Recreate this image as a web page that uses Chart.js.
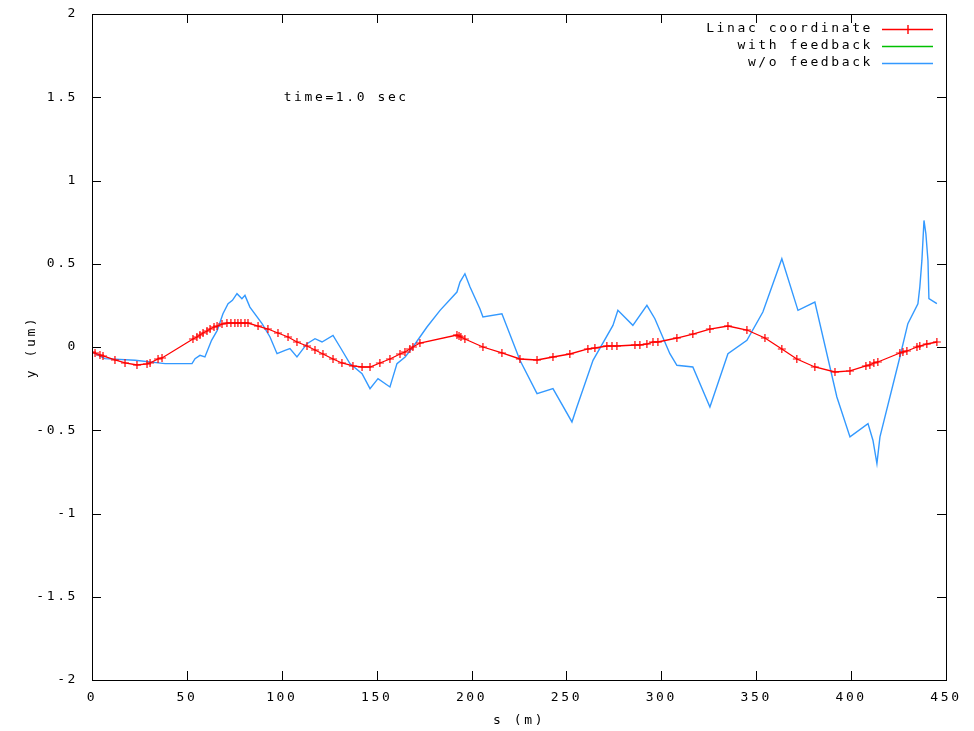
<!DOCTYPE html>
<html><head><meta charset="utf-8">
<script src="https://cdn.jsdelivr.net/npm/chart.js@4/dist/chart.umd.min.js"></script>
<style>html,body{margin:0;padding:0;background:#fff}#wrap{width:974px;height:731px}</style>
</head><body><div id="wrap"><canvas id="c" width="974" height="731"></canvas></div>
<script>
// ---- data ----
const seriesLabels = ['Linac coordinate', 'with feedback', 'w/o feedback'];
const annotationText = 'time=1.0 sec';
const xTicks = [0, 50, 100, 150, 200, 250, 300, 350, 400, 450];
const yTicks = [-2, -1.5, -1, -0.5, 0, 0.5, 1, 1.5, 2];

const sRed = [0, 1.6, 4.2, 5.8, 12.1, 17.4, 23.7, 29, 30.6, 34.8, 36.9, 53.2, 55.3, 56.9, 58.5, 60.6, 62.2, 64.3, 65.9, 68.5, 71.1, 73.2, 75.3, 76.9, 78.5, 80.6, 82.2, 87.5, 92.7, 98, 103.3, 108, 113.3, 117.5, 121.7, 127, 131.7, 137.5, 142.3, 146.5, 151.7, 157, 162.3, 164.9, 167.5, 169.1, 172.8, 192.3, 193.4, 194.4, 196.5, 206, 216, 225.5, 234.5, 242.9, 251.8, 261.3, 265, 271.3, 274, 276.6, 286.1, 288.7, 292.4, 295.6, 298.2, 308.2, 316.6, 325.6, 335.1, 345.1, 354.6, 363.5, 371.4, 380.9, 391.5, 399.4, 407.8, 409.9, 412, 414.1, 425.7, 427.3, 429.4, 434.7, 436.2, 439.9, 445.2];
const yRed = [-0.03, -0.036, -0.048, -0.054, -0.078, -0.096, -0.108, -0.102, -0.096, -0.072, -0.066, 0.048, 0.06, 0.072, 0.084, 0.096, 0.108, 0.12, 0.126, 0.138, 0.144, 0.144, 0.144, 0.144, 0.144, 0.144, 0.144, 0.126, 0.108, 0.084, 0.06, 0.03, 0.006, -0.018, -0.042, -0.072, -0.096, -0.114, -0.12, -0.12, -0.096, -0.072, -0.042, -0.03, -0.012, 0, 0.024, 0.072, 0.066, 0.06, 0.048, 0, -0.036, -0.072, -0.078, -0.06, -0.042, -0.012, -0.006, 0.006, 0.006, 0.006, 0.012, 0.012, 0.018, 0.03, 0.03, 0.054, 0.078, 0.108, 0.126, 0.102, 0.054, -0.012, -0.072, -0.12, -0.15, -0.144, -0.114, -0.108, -0.096, -0.09, -0.036, -0.03, -0.024, 0, 0.006, 0.018, 0.03];

const sGreen = [];
const yGreen = [];

const sBlue = [0, 6.8, 22.7, 38.5, 52.7, 54.3, 56.9, 59.5, 63, 66, 69, 71.7, 74, 76.4, 79, 80.6, 83.2, 89.6, 93.8, 97.5, 101.7, 104.3, 108, 113.3, 117.5, 121.2, 127, 130.7, 135.9, 142.3, 146.5, 150.7, 157, 160.7, 165, 169.1, 176.5, 183.4, 192.3, 193.9, 196.5, 199.2, 204.4, 206, 216, 225.5, 234.5, 242.9, 252.9, 255.5, 264, 274.5, 277.1, 285, 292.4, 296.6, 304.5, 308.2, 316.6, 325.6, 335.1, 345.1, 353.5, 363.5, 372, 380.9, 392.5, 399.4, 408.9, 411.5, 413.6, 415.2, 425.7, 429.9, 435.2, 436.2, 437.3, 438.4, 439.4, 440.5, 441, 445.2];
const yBlue = [-0.03, -0.07, -0.08, -0.1, -0.1, -0.07, -0.05, -0.06, 0.04, 0.1, 0.2, 0.26, 0.28, 0.32, 0.29, 0.31, 0.24, 0.14, 0.06, -0.04, -0.02, -0.01, -0.06, 0.02, 0.05, 0.03, 0.07, 0, -0.1, -0.16, -0.25, -0.19, -0.24, -0.1, -0.06, 0, 0.12, 0.22, 0.33, 0.39, 0.44, 0.36, 0.23, 0.18, 0.2, -0.08, -0.28, -0.25, -0.45, -0.36, -0.08, 0.13, 0.22, 0.13, 0.25, 0.17, -0.04, -0.11, -0.12, -0.36, -0.04, 0.04, 0.21, 0.53, 0.22, 0.27, -0.3, -0.54, -0.46, -0.56, -0.7, -0.54, -0.06, 0.14, 0.26, 0.36, 0.52, 0.76, 0.68, 0.52, 0.29, 0.26];

const annotationAt = { s: 101, y: 1.5 };

// ---- chart ----
const FONT = 'DejaVu Sans Mono';
const FSIZE = 13;
const SPACING = '2.6px';
const pts = (xs, ys) => xs.map((x, i) => ({ x: x, y: ys[i] }));
const COLORS = ['#ff0000', '#00c000', '#3399ff'];

const spacingPlugin = {
  id: 'spacing',
  beforeLayout(chart) { chart.ctx.letterSpacing = SPACING; },
  beforeDraw(chart) { chart.ctx.letterSpacing = SPACING; }
};

const framePlugin = {
  id: 'frame',
  afterDraw(chart) {
    const { ctx, chartArea: a, scales } = chart;
    ctx.save();
    ctx.letterSpacing = SPACING;
    ctx.strokeStyle = '#000';
    ctx.lineWidth = 1;
    ctx.beginPath();
    const T = 9;
    xTicks.forEach(v => {
      const x = Math.round(scales.x.getPixelForValue(v)) + 0.5;
      ctx.moveTo(x, a.bottom); ctx.lineTo(x, a.bottom - T);
      ctx.moveTo(x, a.top); ctx.lineTo(x, a.top + T);
    });
    yTicks.forEach(v => {
      const y = Math.round(scales.y.getPixelForValue(v)) + 0.5;
      ctx.moveTo(a.left, y); ctx.lineTo(a.left + T, y);
      ctx.moveTo(a.right, y); ctx.lineTo(a.right - T, y);
    });
    ctx.stroke();
    ctx.strokeRect(Math.round(a.left) + 0.5, Math.round(a.top) + 0.5, Math.round(a.right - a.left), Math.round(a.bottom - a.top));

    // annotation
    ctx.fillStyle = '#000';
    ctx.font = FSIZE + 'px "' + FONT + '"';
    ctx.textAlign = 'left';
    ctx.textBaseline = 'middle';
    ctx.fillText(annotationText, scales.x.getPixelForValue(annotationAt.s), scales.y.getPixelForValue(annotationAt.y));

    // legend
    const rowY = [29, 46, 63];
    const textRight = 873, lx0 = 882, lx1 = 933;
    ctx.textAlign = 'right';
    chart.data.datasets.forEach((ds, i) => {
      const y = rowY[i];
      ctx.fillStyle = '#000';
      ctx.fillText(ds.label, textRight, y);
      ctx.strokeStyle = ds.borderColor;
      ctx.lineWidth = 1.4;
      ctx.beginPath();
      ctx.moveTo(lx0, y + 0.5); ctx.lineTo(lx1, y + 0.5);
      if (ds.pointRadius > 0) {
        const cx = (lx0 + lx1) / 2;
        ctx.moveTo(cx + 0.5, y - 4); ctx.lineTo(cx + 0.5, y + 5);
      }
      ctx.stroke();
    });
    ctx.restore();
  }
};

new Chart(document.getElementById('c'), {
  type: 'line',
  data: {
    datasets: [
      { label: seriesLabels[0], data: pts(sRed, yRed), borderColor: COLORS[0], backgroundColor: COLORS[0],
        borderWidth: 1.3, pointStyle: 'cross', pointRadius: 4, pointBorderWidth: 1.2, pointHoverRadius: 4, tension: 0, fill: false },
      { label: seriesLabels[1], data: pts(sGreen, yGreen), borderColor: COLORS[1], backgroundColor: COLORS[1],
        borderWidth: 1.3, pointRadius: 0, tension: 0, fill: false },
      { label: seriesLabels[2], data: pts(sBlue, yBlue), borderColor: COLORS[2], backgroundColor: COLORS[2],
        borderWidth: 1.4, pointRadius: 0, tension: 0, fill: false }
    ]
  },
  options: {
    responsive: false,
    animation: false,
    devicePixelRatio: 1,
    layout: { padding: { left: 0, right: 28, top: 14, bottom: 0 } },
    plugins: { legend: { display: false }, tooltip: { enabled: false } },
    scales: {
      x: {
        type: 'linear', min: 0, max: 450,
        grid: { display: false, drawTicks: false },
        border: { display: false },
        afterBuildTicks: s => { s.ticks = xTicks.map(v => ({ value: v })); },
        afterFit: s => { s.height = 51; },
        ticks: { color: '#000', font: { family: FONT, size: FSIZE }, padding: 10, maxRotation: 0, autoSkip: false },
        title: { display: true, text: 's (m)', color: '#000', font: { family: FONT, size: FSIZE }, padding: { top: 0, bottom: 3 } }
      },
      y: {
        type: 'linear', min: -2, max: 2,
        grid: { display: false, drawTicks: false },
        border: { display: false },
        afterBuildTicks: s => { s.ticks = yTicks.map(v => ({ value: v })); },
        afterFit: s => { s.width = 92; s.paddingTop = 0; s.paddingBottom = 0; },
        ticks: { color: '#000', font: { family: FONT, size: FSIZE }, padding: 14, callback: v => String(v) },
        title: { display: true, text: 'y (um)', color: '#000', font: { family: FONT, size: FSIZE }, padding: { top: 24, bottom: 0 } }
      }
    }
  },
  plugins: [spacingPlugin, framePlugin]
});
</script>
</body></html>
